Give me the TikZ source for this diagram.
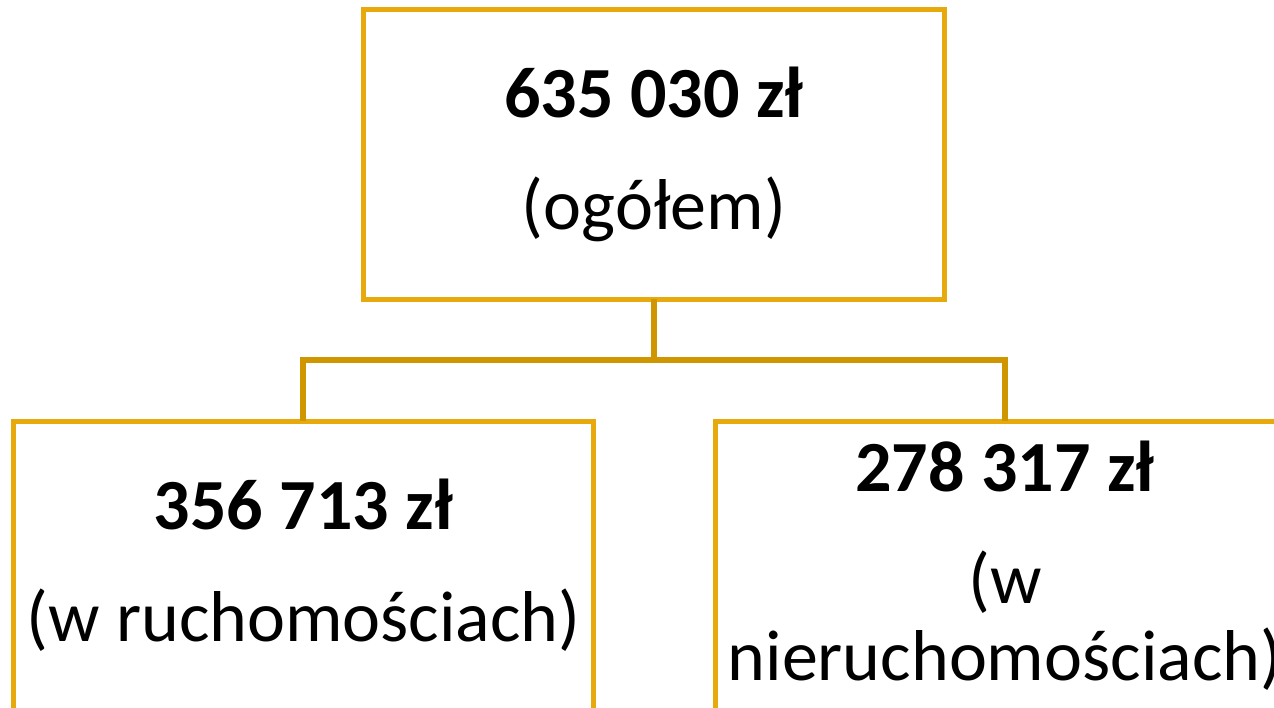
\documentclass[tikz,border=0pt]{standalone}
\usepackage{fontspec}
\setmainfont{Carlito}
\usepackage{xcolor}
\usepackage{tikz}
\usetikzlibrary{
    positioning,
    calc
}

\definecolor{boxgold}{HTML}{E8A90C}
\definecolor{linkgold}{HTML}{D09600}

\begin{document}
\begin{tikzpicture}[
  sum/.style={rectangle, draw=boxgold, line width=2.5pt, fill=white,
    minimum width=290pt, minimum height=144.5pt, outer sep=0pt,
    inner sep=2pt, text width=284pt, align=flush center,
    font=\fontsize{36pt}{38.5pt}\selectfont},
  conn/.style={draw=linkgold, line width=3pt},
  node distance=61pt and 60pt
]

%% ── Frame ────────────────────────────────────────────────────────────────────
\useasboundingbox (-327pt,-276.25pt) rectangle (310pt,77.25pt);
\clip (-327pt,-276.25pt) rectangle (310pt,77.25pt);

%% ── Boxes ────────────────────────────────────────────────────────────────────
\node[sum] (total) at (0,0)
    {{\bfseries 635 030 zł}\\[17.5pt](ogółem)};
\node[sum, below=61pt of total, xshift=-175.25pt] (mov)
    {{\bfseries 356 713 zł}\\[17.5pt](w ruchomościach)};
\node[sum, below=61pt of total, xshift=175.5pt] (immov)
    {{\bfseries 278 317 zł}\\[17.5pt](w nieruchomościach)};

%% ── Connectors ───────────────────────────────────────────────────────────────
\draw[conn] (total.south) -- ++(0,-30.5pt) coordinate (fork);
\draw[conn] (fork) -| (mov.north);
\draw[conn] (fork) -| (immov.north);

\end{tikzpicture}
\end{document}
